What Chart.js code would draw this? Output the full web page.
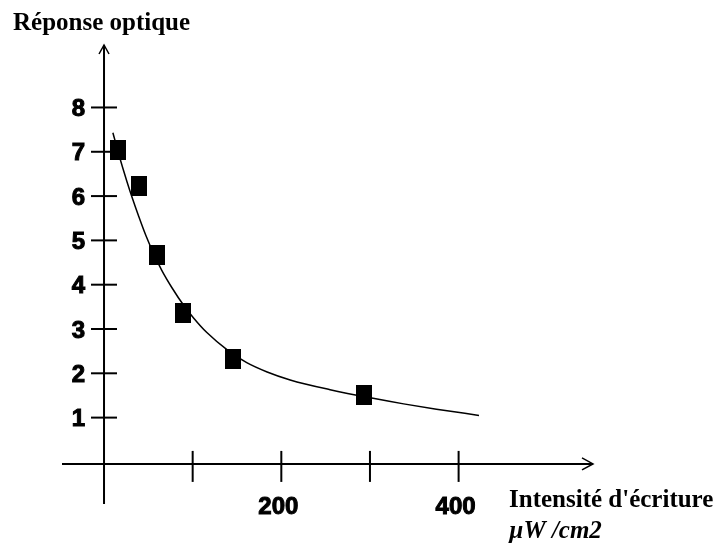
<!DOCTYPE html>
<html>
<head>
<meta charset="utf-8">
<script src="https://cdn.jsdelivr.net/npm/chart.js"></script>
<style>
  body { margin: 0; background: #fff; }
  canvas { display: block; }
</style>
</head>
<body>
<canvas id="chart" width="717" height="551"></canvas>
<script>
// measured points (squares)
const measuredX = [16, 39, 60, 89, 146, 293];
const measuredY = [7.03, 6.23, 4.66, 3.37, 2.33, 1.51];

// fitted curve
const fitX = [10, 19, 26, 32, 39, 47, 56, 65, 77, 90, 101, 116, 139, 161, 184, 210, 255, 302, 338, 375, 423];
const fitY = [7.43, 6.78, 6.32, 5.95, 5.55, 5.12, 4.70, 4.33, 3.92, 3.53, 3.25, 2.92, 2.53, 2.24, 2.03, 1.85, 1.63, 1.44, 1.31, 1.19, 1.05];

// axis ticks
const xTicks = [100, 200, 300, 400];
const xTickLabels = ['', '200', '', '400'];
const yTicks = [1, 2, 3, 4, 5, 6, 7, 8];

const yTitle = 'Réponse optique';
const xTitle = 'Intensité d\'écriture';
const xUnit = 'µW /cm2';

// square marker, slightly taller than wide like the scan
const marker = document.createElement('canvas');
marker.width = 16;
marker.height = 20;
const mctx = marker.getContext('2d');
mctx.fillStyle = '#000';
mctx.fillRect(0, 0, 16, 20);

function boldText(ctx, txt, x, y) {
  // the scan's digits are heavier than a plain bold face
  ctx.fillText(txt, x, y);
  ctx.strokeText(txt, x, y);
}

const axesPlugin = {
  id: 'handAxes',
  beforeDatasetsDraw(chart) {
    const ctx = chart.ctx;
    const xs = chart.scales.x, ys = chart.scales.y;
    const ox = xs.getPixelForValue(0);
    const oy = ys.getPixelForValue(0) + 2;
    const top = chart.chartArea.top, bottom = chart.chartArea.bottom;
    const left = chart.chartArea.left, right = chart.chartArea.right;

    ctx.save();
    ctx.strokeStyle = '#000';
    ctx.lineWidth = 2;
    ctx.lineCap = 'butt';

    // y axis
    ctx.beginPath();
    ctx.moveTo(ox, bottom);
    ctx.lineTo(ox, top);
    ctx.stroke();
    ctx.lineWidth = 1.5;
    ctx.beginPath();
    ctx.moveTo(ox - 5, top + 9);
    ctx.lineTo(ox, top);
    ctx.lineTo(ox + 5, top + 9);
    ctx.stroke();

    // x axis
    ctx.lineWidth = 2;
    ctx.beginPath();
    ctx.moveTo(left, oy);
    ctx.lineTo(right, oy);
    ctx.stroke();
    ctx.lineWidth = 1.5;
    ctx.beginPath();
    ctx.moveTo(right - 11, oy - 6);
    ctx.lineTo(right, oy);
    ctx.lineTo(right - 11, oy + 6);
    ctx.stroke();

    // y ticks + labels
    ctx.fillStyle = '#000';
    ctx.font = 'bold 24px "Liberation Sans", Arial, sans-serif';
    ctx.textAlign = 'right';
    ctx.textBaseline = 'middle';
    yTicks.forEach(v => {
      const py = ys.getPixelForValue(v);
      ctx.lineWidth = 2;
      ctx.beginPath();
      ctx.moveTo(ox - 13, py);
      ctx.lineTo(ox + 13, py);
      ctx.stroke();
      ctx.lineWidth = 1;
      boldText(ctx, String(v), ox - 19, py + 2);
    });

    // x ticks + labels
    ctx.textAlign = 'center';
    ctx.textBaseline = 'top';
    xTicks.forEach((v, i) => {
      const px = xs.getPixelForValue(v);
      ctx.lineWidth = 2;
      ctx.beginPath();
      ctx.moveTo(px, oy - 13);
      ctx.lineTo(px, oy + 18);
      ctx.stroke();
      ctx.lineWidth = 1;
      if (xTickLabels[i]) boldText(ctx, xTickLabels[i], px - 3, oy + 31);
    });

    // titles
    ctx.textAlign = 'left';
    ctx.textBaseline = 'alphabetic';
    ctx.font = 'bold 25px "Liberation Serif", "Times New Roman", serif';
    ctx.fillText(yTitle, 13, 30);
    ctx.fillText(xTitle, 509, oy + 43);
    ctx.font = 'italic bold 25px "Liberation Serif", "Times New Roman", serif';
    ctx.fillText(xUnit, 509, oy + 74);
    ctx.restore();
  }
};

new Chart(document.getElementById('chart'), {
  type: 'scatter',
  data: {
    datasets: [
      {
        label: 'mesures',
        data: measuredX.map((x, i) => ({ x: x, y: measuredY[i] })),
        pointStyle: marker,
        pointRadius: 10,
        showLine: false,
        order: 0
      },
      {
        label: 'courbe',
        data: fitX.map((x, i) => ({ x: x, y: fitY[i] })),
        showLine: true,
        borderColor: '#000',
        borderWidth: 1.5,
        pointRadius: 0,
        tension: 0.4,
        cubicInterpolationMode: 'monotone',
        order: 1
      }
    ]
  },
  options: {
    responsive: false,
    animation: false,
    events: [],
    layout: { padding: { left: 62, right: 124, top: 45, bottom: 47 } },
    plugins: { legend: { display: false }, tooltip: { enabled: false } },
    scales: {
      x: { type: 'linear', min: -47.4, max: 551.6, display: false },
      y: { type: 'linear', min: -0.95, max: 9.41, display: false }
    }
  },
  plugins: [axesPlugin]
});
</script>
</body>
</html>
